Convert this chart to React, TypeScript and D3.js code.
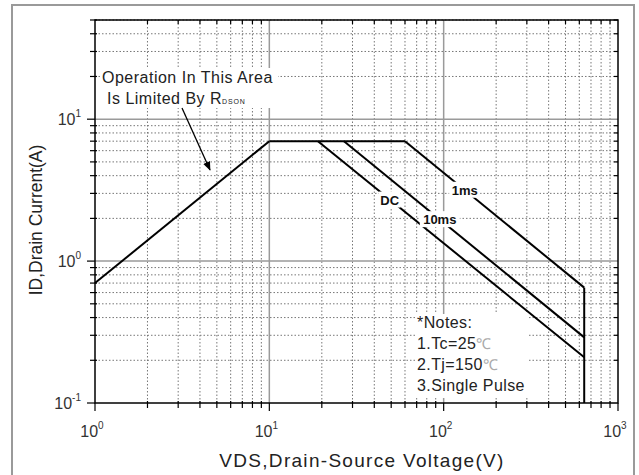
import React from 'react';
import * as d3 from 'd3';

// Safe operating area curves (VDS in V, ID in A)
const rdsonV = [1, 10];
const rdsonI = [0.7, 7];
const flatV = [10, 60];
const flatI = [7, 7];
const dcV = [19, 640];
const dcI = [7, 0.21];
const ms10V = [26.8, 640];
const ms10I = [7, 0.29];
const ms1V = [60, 640];
const ms1I = [7, 0.65];
const bvdssV = [640, 640];
const bvdssI = [0.65, 0.1];

// where each curve label sits along its line (VDS value)
const curveLabels = ['DC', '10ms', '1ms'];
const curveLabelV = [49, 95, 132];

const xTickExp = [0, 1, 2, 3];
const yTickExp = [-1, 0, 1];

const notes = ['*Notes:', '1.Tc=25', '2.Tj=150', '3.Single Pulse'];
const noteUnits = ['', '℃', '℃', ''];

const W = 639;
const H = 475;
const margin = { top: 20, right: 21, bottom: 72, left: 95 };

const App = () => {
  const x = d3.scaleLog().domain([1, 1000]).range([margin.left, W - margin.right]);
  const y = d3.scaleLog().domain([0.1, 50]).range([H - margin.bottom, margin.top]);
  const [x0, x1] = x.range();
  const [y0, y1] = y.range();

  const line = d3.line<[number, number]>().x(d => x(d[0])).y(d => y(d[1]));
  const zip = (vs: number[], is: number[]) => vs.map((v, i) => [v, is[i]] as [number, number]);

  // minor grid values
  const xMinor: number[] = [];
  [1, 10, 100].forEach(d => { for (let k = 2; k <= 9; k++) xMinor.push(k * d); });
  const yMinor: number[] = [];
  [0.1, 1, 10].forEach(d => { for (let k = 2; k <= 9; k++) if (k * d <= 50) yMinor.push(k * d); });
  const xMajor = [10, 100];
  const yMajor = [1, 10];

  // label positions from power lines
  const curves = [zip(dcV, dcI), zip(ms10V, ms10I), zip(ms1V, ms1I)];
  const labelPos = curveLabels.map((lab, i) => {
    const c = curves[i];
    const p = c[0][0] * c[0][1];
    const v = curveLabelV[i];
    return { lab, cx: x(v), cy: y(p / v) };
  });

  const font = '"Liberation Sans", Arial, sans-serif';
  const arrowFrom = [182, 108];
  const arrowTo = [210, 170];

  return (
    <svg width={W} height={H} style={{ position: 'absolute', left: 0, top: 0, background: '#fff' }} fontFamily={font}>
      <defs>
        <marker id="arr" viewBox="0 0 10 10" refX="9" refY="5" markerWidth="7" markerHeight="7" orient="auto">
          <path d="M0,1 L10,5 L0,9 z" fill="#000" />
        </marker>
      </defs>
      {/* outer border */}
      <rect x={12} y={5} width={622} height={H + 10} fill="none" stroke="#9a9a9a" strokeWidth={2} />

      {/* minor grid */}
      <g stroke="#777" strokeWidth={1} strokeDasharray="1.5,2">
        {xMinor.map(v => <line key={'xm' + v} x1={x(v)} x2={x(v)} y1={y0} y2={y1} />)}
        {yMinor.map(v => <line key={'ym' + v} x1={x0} x2={x1} y1={y(v)} y2={y(v)} />)}
      </g>
      {/* major grid */}
      <g stroke="#9a9a9a" strokeWidth={1.5}>
        {xMajor.map(v => <line key={'xM' + v} x1={x(v)} x2={x(v)} y1={y0} y2={y1} />)}
        {yMajor.map(v => <line key={'yM' + v} x1={x0} x2={x1} y1={y(v)} y2={y(v)} />)}
      </g>

      {/* ticks */}
      <g stroke="#000" strokeWidth={1.2}>
        {xMinor.map(v => (
          <g key={'xt' + v}>
            <line x1={x(v)} x2={x(v)} y1={y0 - 2} y2={y0 + 5} />
            <line x1={x(v)} x2={x(v)} y1={y1} y2={y1 + 4} />
          </g>
        ))}
        {yMinor.map(v => (
          <g key={'yt' + v}>
            <line x1={x0 - 5} x2={x0 + 2} y1={y(v)} y2={y(v)} />
            <line x1={x1 - 4} x2={x1} y1={y(v)} y2={y(v)} />
          </g>
        ))}
        {xTickExp.map(e => <line key={'xT' + e} x1={x(10 ** e)} x2={x(10 ** e)} y1={y0} y2={y0 + 8} />)}
        {yTickExp.map(e => <line key={'yT' + e} x1={x0 - 8} x2={x0} y1={y(10 ** e)} y2={y(10 ** e)} />)}
      </g>

      {/* tick labels */}
      <g fill="#333" fontSize={16}>
        {xTickExp.map(e => (
          <text key={'xl' + e} x={x(10 ** e) - 3} y={437} textAnchor="middle">
            10<tspan fontSize={10} dy={-8}>{e}</tspan>
          </text>
        ))}
        {yTickExp.map(e => (
          <text key={'yl' + e} x={x0 - 14} y={y(10 ** e) + 6} textAnchor="end">
            10<tspan fontSize={10} dy={-8}>{e}</tspan>
          </text>
        ))}
      </g>

      {/* annotation */}
      <rect x={100} y={68} width={178} height={40} fill="#fff" />
      <g fontSize={16} fill="#222" letterSpacing={0.5}>
        <text x={102} y={83}>Operation In This Area</text>
        <text x={107} y={104}>Is Limited By R<tspan fontSize={7} letterSpacing={0.8}>DSON</tspan></text>
      </g>
      <line x1={arrowFrom[0]} y1={arrowFrom[1]} x2={arrowTo[0]} y2={arrowTo[1]} stroke="#000" strokeWidth={1.3} markerEnd="url(#arr)" />

      {/* notes */}
      <rect x={416} y={314} width={112} height={84} fill="#fff" />
      <g fontSize={16} fill="#222" letterSpacing={0.4}>
        {notes.map((n, i) => (
          <text key={n} x={417} y={328 + i * 21}>
            {n}{noteUnits[i] ? <tspan fill="#aaa" fontSize={15}>{noteUnits[i]}</tspan> : null}
          </text>
        ))}
      </g>

      {/* SOA curves */}
      <g fill="none" stroke="#000" strokeWidth={2}>
        <path d={line(zip(rdsonV, rdsonI)) || ''} />
        <path d={line(zip(flatV, flatI)) || ''} />
        {curves.map((c, i) => <path key={'c' + i} d={line(c) || ''} />)}
        <path d={line(zip(bvdssV, bvdssI)) || ''} />
      </g>
      <g fontSize={13} fontWeight="bold" fill="#111">
        {labelPos.map(l => (
          <g key={l.lab}>
            <rect x={l.cx - l.lab.length * 4.5 - 2} y={l.cy - 8} width={l.lab.length * 9 + 4} height={16} fill="#fff" />
            <text x={l.cx} y={l.cy + 5} textAnchor="middle">{l.lab}</text>
          </g>
        ))}
      </g>

      {/* frame */}
      <rect x={x0} y={y1} width={x1 - x0} height={y0 - y1} fill="none" stroke="#000" strokeWidth={1.5} />

      {/* axis titles */}
      <text x={362} y={467} textAnchor="middle" fontSize={19} letterSpacing={1.3} fill="#222">VDS,Drain-Source Voltage(V)</text>
      <text transform="translate(42,220) rotate(-90)" textAnchor="middle" fontSize={17.5} fill="#222">ID,Drain Current(A)</text>
    </svg>
  );
};

export default App;
